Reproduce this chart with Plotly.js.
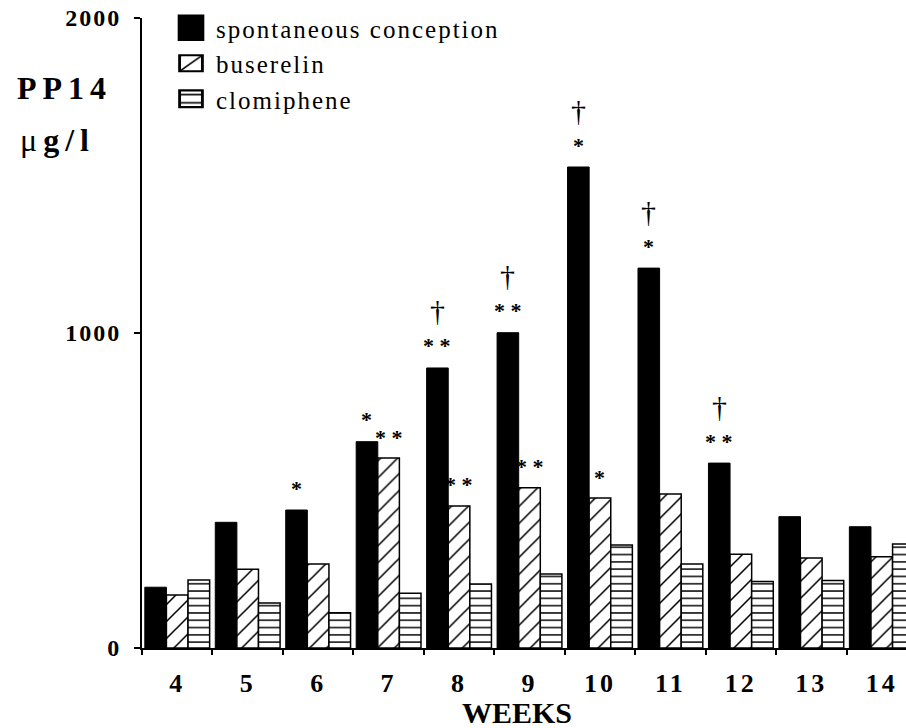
<!DOCTYPE html>
<html>
<head>
<meta charset="utf-8">
<script src="https://cdn.plot.ly/plotly-3.0.1.min.js"></script>
<style>
  html, body { margin: 0; padding: 0; background: #fff; overflow: hidden; }
  .xtick text { letter-spacing: 3px; }
  .ytick text { letter-spacing: 2px; }
  .legendtext { letter-spacing: 2px; }
</style>
</head>
<body>
<div id="chart" style="width:906px;height:728px;"></div>
<script>
const weeks = ['4', '5', '6', '7', '8', '9', '10', '11', '12', '13', '14'];
const spontaneous = [193, 399, 438, 655, 889, 1001, 1527, 1206, 587, 417, 385];
const buserelin   = [168, 250, 267, 603, 451, 509, 476, 489, 298, 286, 290];
const clomiphene  = [216, 143, 112, 174, 203, 235, 327, 267, 211, 214, 330];
const sigSpontaneous    = ['', '', '*', '*', '* *', '* *', '*', '*', '* *', '', ''];
const daggerSpontaneous = ['', '', '', '', '†', '†', '†', '†', '†', '', ''];
const sigBuserelin      = ['', '', '', '* *', '* *', '* *', '*', '', '', '', ''];
const yTickVals = [0, 1000, 2000];
const yTickText = ['0', '1000', '2000'];

const serif = 'Liberation Serif, Times New Roman, serif';
const bargap = 0.08;
const barW = (1 - bargap) / 3;

const traces = [
  {
    type: 'bar', name: 'spontaneous conception', x: weeks, y: spontaneous,
    marker: { color: 'black', line: { color: 'black', width: 1 } }
  },
  {
    type: 'bar', name: 'buserelin', x: weeks, y: buserelin,
    marker: {
      color: 'white', line: { color: 'black', width: 1.5 },
      pattern: { shape: '/', size: 12, solidity: 0.13, fgcolor: 'black', bgcolor: 'white', fillmode: 'replace' }
    }
  },
  {
    type: 'bar', name: 'clomiphene', x: weeks, y: clomiphene,
    marker: {
      color: 'white', line: { color: 'black', width: 1.5 },
      pattern: { shape: '-', size: 7.3, solidity: 0.2, fgcolor: 'black', bgcolor: 'white', fillmode: 'replace' }
    }
  }
];

const L = 142, T = 18, PW = 764, PH = 630;
function px(x) { return (x - L) / PW; }
function py(y) { return (T + PH - y) / PH; }

const annotations = [
  { text: '<b>PP14</b>', xref: 'paper', yref: 'paper', x: px(64), y: py(88), showarrow: false,
    xanchor: 'center', yanchor: 'middle', font: { family: serif, size: 32, color: 'black' } },
  { text: 'μ<b>g/l</b>', xref: 'paper', yref: 'paper', x: px(57), y: py(140), showarrow: false,
    xanchor: 'center', yanchor: 'middle', font: { family: serif, size: 32, color: 'black' } },
  { text: '<b>WEEKS</b>', xref: 'paper', yref: 'paper', x: px(517), y: py(712), showarrow: false,
    xanchor: 'center', yanchor: 'middle', font: { family: serif, size: 30, color: 'black' } }
];

const starFont = { family: serif, size: 22, color: 'black', weight: 'bold' };
const dagFont = { family: serif, size: 30, color: 'black' };
for (let i = 0; i < weeks.length; i++) {
  if (sigSpontaneous[i]) {
    annotations.push({ x: i - barW, y: spontaneous[i], xref: 'x', yref: 'y', text: sigSpontaneous[i],
      showarrow: false, yanchor: 'middle', yshift: 22, font: starFont });
  }
  if (daggerSpontaneous[i]) {
    annotations.push({ x: i - barW, y: spontaneous[i], xref: 'x', yref: 'y', text: daggerSpontaneous[i],
      showarrow: false, yanchor: 'middle', yshift: 57, font: dagFont });
  }
  if (sigBuserelin[i]) {
    annotations.push({ x: i, y: buserelin[i], xref: 'x', yref: 'y', text: sigBuserelin[i],
      showarrow: false, yanchor: 'middle', yshift: 21, font: starFont });
  }
}

const layout = {
  width: 906, height: 728,
  margin: { l: L, r: 0, t: T, b: 728 - T - PH, pad: 0 },
  paper_bgcolor: 'white', plot_bgcolor: 'white',
  barmode: 'group', bargap: bargap, bargroupgap: 0,
  showlegend: true,
  legend: {
    x: px(176), y: py(5), xanchor: 'left', yanchor: 'top',
    font: { family: serif, size: 25, color: 'black' },
    bgcolor: 'rgba(0,0,0,0)', borderwidth: 0, tracegroupgap: 0
  },
  xaxis: {
    type: 'category', range: [-0.5, 10.344], fixedrange: true,
    showline: true, linecolor: 'black', linewidth: 2,
    ticks: 'outside', tickson: 'boundaries', ticklen: 5, tickwidth: 2, tickcolor: 'black',
    ticklabelstandoff: 11,
    tickfont: { family: serif, size: 26, color: 'black', weight: 'bold' },
    showgrid: false, zeroline: false
  },
  yaxis: {
    range: [0, 2000], fixedrange: true,
    tickvals: yTickVals, ticktext: yTickText,
    showline: true, linecolor: 'black', linewidth: 2,
    ticks: 'outside', ticklen: 6, tickwidth: 2, tickcolor: 'black',
    ticklabelstandoff: 8,
    tickfont: { family: serif, size: 24, color: 'black', weight: 'bold' },
    showgrid: false, zeroline: false
  },
  annotations: annotations
};

function enlargeLegend(gd) {
  const scales = [[2.05, 2.05], [1.9, 1.35], [1.9, 1.4]];
  gd.querySelectorAll('.legend .traces').forEach(function (tr, i) {
    const s = scales[i] || [1.9, 1.4];
    tr.querySelectorAll('.legendpoints path').forEach(function (p) {
      const prev = p.getAttribute('transform') || '';
      p.setAttribute('transform', 'translate(-5,0) ' + prev + ' scale(' + s[0] + ',' + s[1] + ')');
    });
  });
  const t0 = gd.querySelector('.annotation[data-index="0"] text');
  const t1 = gd.querySelector('.annotation[data-index="1"] text');
  if (t0) t0.style.letterSpacing = '6px';
  if (t1) t1.style.letterSpacing = '6px';
}

Plotly.newPlot('chart', traces, layout, { staticPlot: true, displayModeBar: false })
  .then(enlargeLegend);
</script>
</body>
</html>
